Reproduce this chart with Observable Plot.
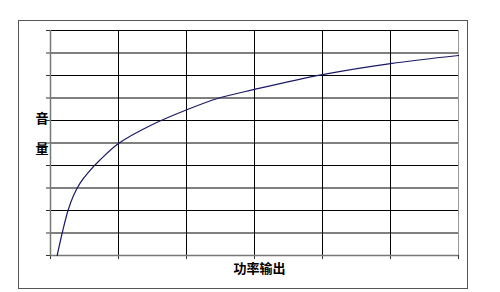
<!DOCTYPE html>
<html>
<head>
<meta charset="utf-8">
<script src="https://cdn.jsdelivr.net/npm/d3@7"></script>
<script src="https://cdn.jsdelivr.net/npm/@observablehq/plot@0.6"></script>
<style>
  html, body { margin: 0; padding: 0; background: #fff; }
  #wrap { position: relative; width: 500px; height: 292px; }
  #border { position: absolute; left: 18px; top: 20px; width: 448px; height: 267px; border: 1px solid #555; pointer-events: none; }
  svg { display: block; }
</style>
</head>
<body>
<div id="wrap"><div id="border"></div></div>
<script>
// Data
const power  = [4.9, 9.0, 13.0, 17.0, 22.0, 28.0, 36.0, 50, 73.5, 100.7, 122.8, 150, 200, 250, 300];
const volume = [0, 11.0, 20.2, 26.8, 32.4, 37.1, 42.2, 49.8, 57.8, 64.9, 69.8, 73.8, 80.4, 85.3, 88.9];
const xTicks = [0, 50, 100, 150, 200, 250, 300];
const yTicks = [0, 10, 20, 30, 40, 50, 60, 70, 80, 90, 100];
const xLabel = "功率输出";
const yLabel = "音\n\n量";

const data = power.map((p, i) => ({power: p, volume: volume[i]}));

const chart = Plot.plot({
  width: 500,
  height: 292,
  marginLeft: 50,
  marginRight: 42,
  marginTop: 30,
  marginBottom: 37,
  style: {fontFamily: "'Noto Sans CJK SC', sans-serif", background: "transparent"},
  x: {domain: [0, 300]},
  y: {domain: [0, 100]},
  marks: [
    Plot.gridX(xTicks.slice(1, -1), {stroke: "#000", strokeOpacity: 1}),
    Plot.gridX([300], {stroke: "#999", strokeOpacity: 1}),
    Plot.gridY(yTicks.slice(1), {stroke: "#000", strokeOpacity: 1}),
    Plot.axisX({ticks: xTicks, tickSize: 4, fill: "none", stroke: "#333", label: null}),
    Plot.axisY({ticks: yTicks, tickSize: 4, fill: "none", stroke: "#333", label: null}),
    Plot.ruleX([0], {stroke: "#777", strokeWidth: 1.5}),
    Plot.ruleY([0], {stroke: "#777", strokeWidth: 1.5}),
    Plot.line(data, {x: "power", y: "volume", stroke: "#1a1a66", strokeWidth: 1.2, curve: "catmull-rom"}),
    Plot.text([xLabel], {frameAnchor: "bottom", dx: 5, dy: 17, fontSize: 13, fontWeight: "bold", fill: "#000"}),
    Plot.text([yLabel], {frameAnchor: "left", dx: -15, dy: -10, fontSize: 13, fontWeight: "bold", fill: "#000", lineHeight: 1.15})
  ]
});
document.getElementById("wrap").prepend(chart);
</script>
</body>
</html>
